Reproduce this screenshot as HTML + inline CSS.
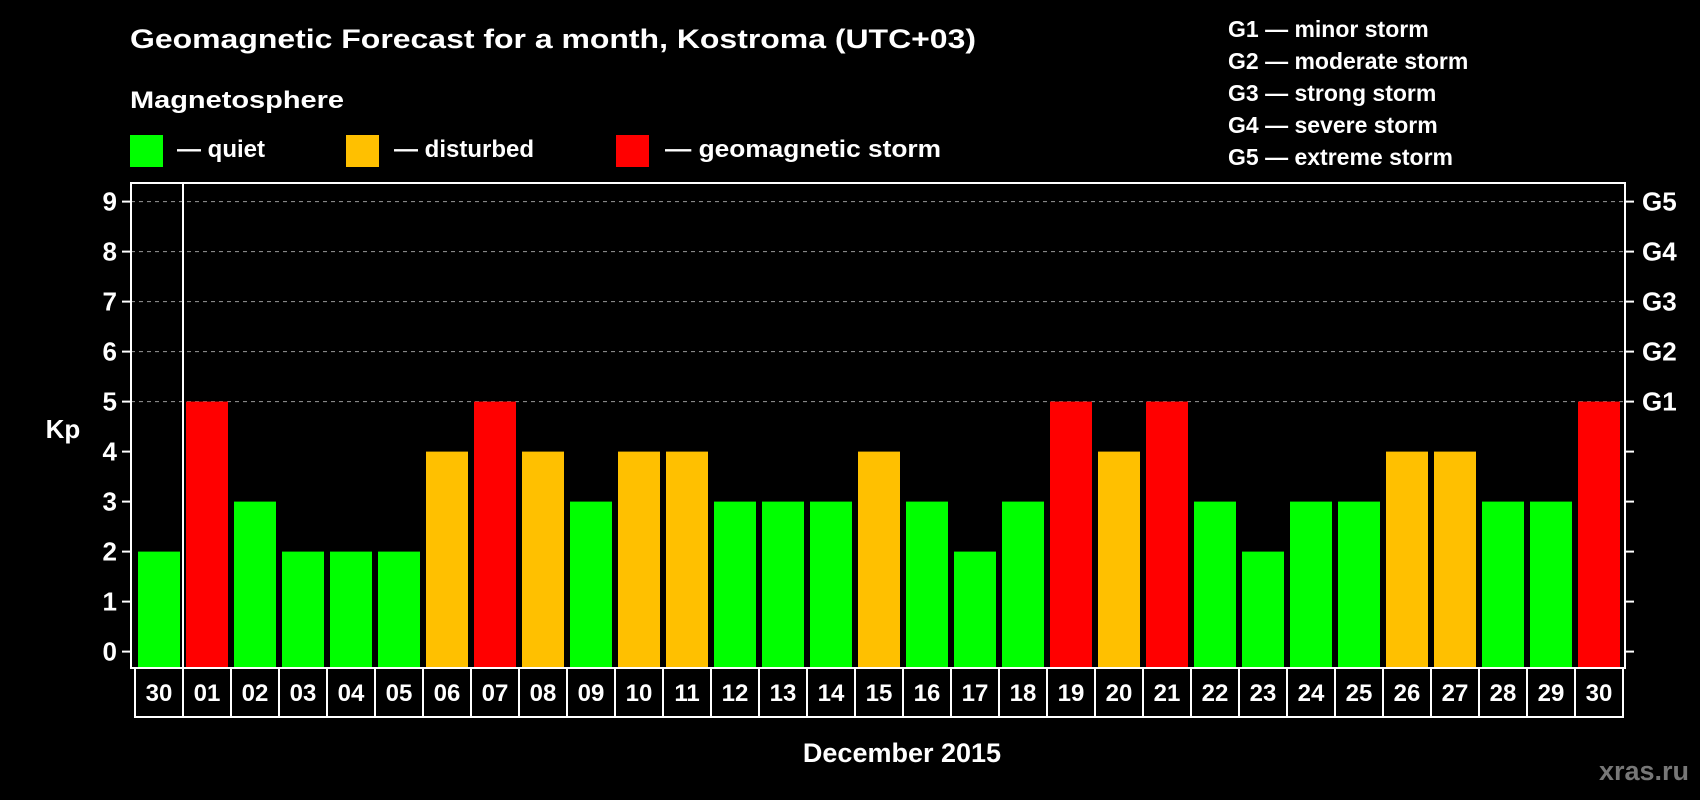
<!DOCTYPE html>
<html><head><meta charset="utf-8"><style>
html,body{margin:0;padding:0;background:#000;}
svg{display:block;font-family:"Liberation Sans",sans-serif;font-weight:bold;}
</style></head><body>
<svg id="chart" width="1700" height="800" viewBox="0 0 1700 800" xmlns="http://www.w3.org/2000/svg">
<rect width="1700" height="800" fill="#000"/>
<text x="130" y="48" fill="#fff" font-size="27" textLength="846" lengthAdjust="spacingAndGlyphs">Geomagnetic Forecast for a month, Kostroma (UTC+03)</text>
<text x="130" y="108" fill="#fff" font-size="24" textLength="214" lengthAdjust="spacingAndGlyphs">Magnetosphere</text>
<g>
<rect x="130" y="135" width="33" height="32" fill="#00ff00"/>
<text x="177" y="157" fill="#fff" font-size="24">— quiet</text></g>
<g>
<rect x="346" y="135" width="33" height="32" fill="#ffc000"/>
<text x="394" y="157" fill="#fff" font-size="24">— disturbed</text></g>
<g>
<rect x="616" y="135" width="33" height="32" fill="#ff0000"/>
<text x="665" y="157" fill="#fff" font-size="24" textLength="276" lengthAdjust="spacingAndGlyphs">— geomagnetic storm</text></g>
<g font-size="23" fill="#fff">
<text x="1228" y="37">G1 — minor storm</text>
<text x="1228" y="69">G2 — moderate storm</text>
<text x="1228" y="101">G3 — strong storm</text>
<text x="1228" y="133">G4 — severe storm</text>
<text x="1228" y="165">G5 — extreme storm</text>
</g>
<text x="63" y="438" fill="#fff" font-size="26" text-anchor="middle">Kp</text>
<text x="902" y="762" fill="#fff" font-size="27" text-anchor="middle">December 2015</text>
<text x="1689" y="780" fill="#777" font-size="27" text-anchor="end">xras.ru</text>
<g id="grid"></g><g id="bars"></g><g id="axes"></g><g id="dates"></g>
</svg>
<script>
const days = ["30","01","02","03","04","05","06","07","08","09","10","11","12","13","14","15","16","17","18","19","20","21","22","23","24","25","26","27","28","29","30"];
const kpValues = [2,5,3,2,2,2,4,5,4,3,4,4,3,3,3,4,3,2,3,5,4,5,3,2,3,3,4,4,3,3,5];
const yTicks = [0,1,2,3,4,5,6,7,8,9];
const gLabels = ["G1","G2","G3","G4","G5"];
const gLevels = [5,6,7,8,9];

const NS = "http://www.w3.org/2000/svg";
const fL = 131, fR = 1625, fT = 183, fB = 668;
const slot0 = 135, slotW = 48, barW = 42;
function yScale(v){ return 651.6 - 50*v; }
function xScale(i){ return slot0 + i*slotW; }
function color(v){ return v >= 5 ? "#ff0000" : (v >= 4 ? "#ffc000" : "#00ff00"); }
function mk(tag, attrs, parent){ const e=document.createElementNS(NS,tag); for(const k in attrs) e.setAttribute(k,attrs[k]); parent.appendChild(e); return e; }

const grid = document.getElementById("grid");
gLevels.forEach((g)=>{
  const l = mk("line",{x1:fL,x2:fR,y1:yScale(g),y2:yScale(g),stroke:"#999","stroke-width":1,"stroke-dasharray":"4,4"},grid);
  
  
});

const bars = document.getElementById("bars");
kpValues.forEach((v,i)=>{
  const r = mk("rect",{x:xScale(i)+3,y:yScale(v),width:barW,height:fB-yScale(v),fill:color(v)},bars);
  
  
});

const axes = document.getElementById("axes");
const frame = mk("rect",{x:fL,y:fT,width:fR-fL,height:fB-fT,fill:"none",stroke:"#fff","stroke-width":2},axes);


const sep = mk("line",{x1:xScale(1),x2:xScale(1),y1:fT,y2:fB,stroke:"#fff","stroke-width":2},axes);


yTicks.forEach((t)=>{
  const y = yScale(t);
  const tl = mk("line",{x1:fL-9,x2:fL,y1:y,y2:y,stroke:"#fff","stroke-width":2},axes);
  
  
  const tr = mk("line",{x1:fR,x2:fR+9,y1:y,y2:y,stroke:"#fff","stroke-width":2},axes);
  
  
  const tx = mk("text",{x:117,y:y+9,fill:"#fff","font-size":26,"text-anchor":"end"},axes);
  tx.textContent = t;
  
  
});
gLevels.forEach((g,i)=>{
  const tx = mk("text",{x:1642,y:yScale(g)+9,fill:"#fff","font-size":26},axes);
  tx.textContent = gLabels[i];
  
  
});

const dates = document.getElementById("dates");
days.forEach((d,i)=>{
  const r = mk("rect",{x:xScale(i),y:fB,width:slotW,height:49,fill:"none",stroke:"#fff","stroke-width":2},dates);
  
  
  const t = mk("text",{x:xScale(i)+slotW/2,y:701,fill:"#fff","font-size":24,"text-anchor":"middle"},dates);
  t.textContent = d;
  
  
});
</script>
</body></html>
